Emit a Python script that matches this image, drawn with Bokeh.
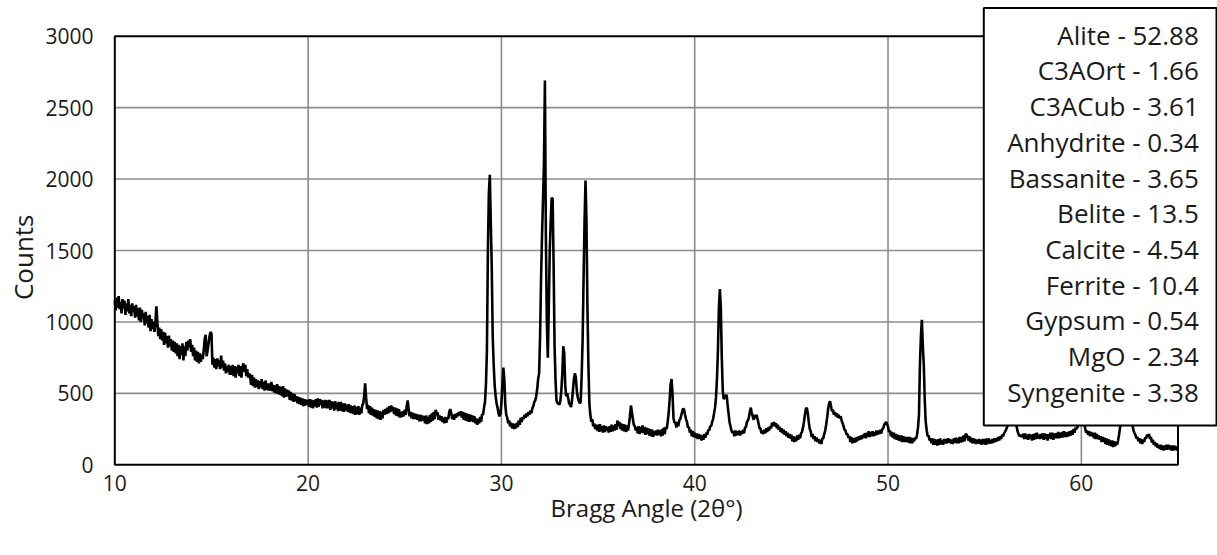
import numpy as np
from bokeh.plotting import figure
from bokeh.models import Range1d, FixedTicker, BoxAnnotation, Label, Title
from bokeh.embed import file_html
from bokeh.resources import INLINE

# XRD pattern: counts sampled every 0.05 deg 2-theta, one row per degree
step = 0.05
counts_10_19 = [
    [1150, 1080, 1170, 1100, 1180, 1090, 1140, 1060, 1160, 1095, 1150, 1050, 1130, 1075, 1160, 1060, 1120, 1040, 1130, 1070],
    [1110, 1030, 1120, 1040, 1095, 1010, 1100, 1000, 1085, 1020, 1060, 975, 1070, 990, 1040, 960, 1050, 935, 1020, 950],
    [1000, 930, 990, 1110, 1000, 900, 960, 880, 950, 870, 930, 840, 925, 850, 900, 820, 905, 830, 880, 800],
    [870, 790, 860, 780, 850, 760, 840, 740, 830, 770, 850, 730, 830, 760, 860, 800, 870, 820, 880, 790],
    [840, 760, 820, 730, 800, 720, 790, 710, 780, 720, 770, 740, 800, 880, 910, 760, 800, 850, 900, 930],
    [920, 700, 750, 680, 740, 670, 745, 690, 730, 670, 765, 680, 730, 660, 710, 640, 690, 650, 700, 630],
    [690, 630, 700, 620, 690, 610, 685, 640, 700, 620, 690, 610, 680, 710, 650, 700, 620, 670, 610, 640],
    [620, 560, 630, 550, 610, 540, 600, 545, 590, 530, 585, 540, 600, 530, 580, 520, 590, 525, 570, 520],
    [570, 520, 580, 515, 560, 505, 555, 500, 565, 495, 550, 490, 545, 480, 550, 470, 535, 475, 525, 480],
    [520, 455, 510, 450, 500, 440, 495, 445, 480, 430, 475, 425, 470, 420, 465, 410, 460, 415, 455, 420],
]
counts_20_29 = [
    [455, 405, 460, 400, 455, 395, 450, 410, 460, 400, 465, 405, 460, 420, 455, 395, 450, 400, 455, 395],
    [450, 395, 455, 385, 445, 395, 440, 380, 445, 390, 435, 375, 440, 380, 440, 375, 430, 370, 430, 380],
    [420, 370, 425, 365, 415, 360, 410, 355, 415, 350, 405, 355, 410, 350, 400, 360, 415, 430, 480, 570],
    [470, 390, 420, 360, 410, 350, 400, 345, 390, 335, 385, 325, 380, 320, 375, 315, 370, 325, 385, 350],
    [390, 355, 400, 360, 410, 370, 415, 375, 405, 355, 400, 345, 395, 340, 390, 330, 370, 335, 375, 340],
    [385, 350, 410, 450, 390, 340, 370, 325, 365, 320, 360, 320, 355, 315, 350, 305, 350, 305, 345, 310],
    [340, 290, 345, 285, 335, 290, 350, 300, 360, 310, 370, 320, 385, 360, 365, 315, 345, 310, 340, 300],
    [330, 290, 335, 295, 330, 320, 370, 390, 365, 320, 350, 315, 355, 330, 360, 340, 370, 345, 375, 330],
    [370, 315, 365, 310, 360, 305, 355, 300, 350, 305, 345, 300, 340, 290, 325, 280, 320, 290, 335, 300],
    [355, 350, 400, 440, 560, 800, 1500, 1900, 2030, 1700, 1380, 900, 700, 560, 480, 430, 400, 360, 340, 355],
]
counts_30_39 = [
    [430, 560, 680, 600, 420, 350, 330, 290, 310, 270, 295, 255, 290, 250, 285, 255, 295, 265, 310, 280],
    [330, 300, 335, 320, 350, 330, 360, 340, 370, 350, 380, 360, 395, 410, 440, 450, 480, 530, 600, 640],
    [900, 1300, 1600, 1850, 2100, 2690, 1600, 1000, 750, 1100, 1500, 1700, 1870, 1860, 1400, 830, 590, 450, 430, 430],
    [420, 450, 520, 640, 830, 780, 560, 480, 500, 470, 430, 420, 405, 450, 520, 600, 640, 610, 520, 470],
    [450, 430, 440, 620, 870, 1300, 1700, 1990, 1700, 1100, 700, 430, 350, 300, 320, 270, 290, 250, 280, 240],
    [280, 230, 285, 235, 270, 225, 275, 230, 270, 240, 265, 225, 270, 230, 280, 235, 275, 240, 285, 245],
    [310, 270, 300, 250, 290, 240, 285, 235, 280, 230, 275, 240, 285, 340, 415, 370, 320, 280, 270, 240],
    [265, 220, 270, 215, 265, 225, 275, 220, 265, 210, 260, 215, 255, 205, 250, 200, 245, 195, 235, 210],
    [240, 205, 245, 210, 240, 200, 250, 205, 260, 215, 265, 250, 300, 360, 450, 560, 600, 500, 330, 295],
    [300, 260, 300, 270, 310, 320, 345, 370, 395, 385, 350, 320, 300, 260, 265, 225, 245, 200, 235, 195],
]
counts_40_49 = [
    [225, 190, 220, 180, 215, 180, 210, 170, 205, 175, 215, 190, 225, 210, 245, 240, 270, 270, 300, 320],
    [360, 400, 470, 600, 800, 1100, 1230, 1100, 750, 520, 460, 470, 480, 490, 420, 360, 300, 270, 240, 225],
    [235, 200, 240, 205, 235, 210, 240, 205, 235, 215, 245, 220, 260, 265, 300, 310, 330, 370, 400, 360],
    [340, 315, 350, 325, 350, 320, 290, 255, 255, 220, 240, 215, 245, 220, 255, 230, 260, 240, 270, 255],
    [295, 270, 300, 270, 290, 255, 280, 245, 265, 230, 255, 220, 245, 210, 235, 200, 225, 190, 215, 185],
    [210, 165, 200, 160, 195, 165, 205, 175, 210, 185, 220, 230, 260, 300, 350, 390, 400, 360, 300, 250],
    [235, 195, 215, 180, 200, 165, 190, 160, 180, 150, 175, 145, 185, 185, 215, 240, 280, 330, 390, 430],
    [445, 410, 375, 385, 350, 370, 340, 360, 330, 350, 325, 340, 310, 290, 270, 245, 240, 215, 215, 190],
    [200, 160, 195, 150, 185, 155, 190, 160, 195, 170, 200, 175, 205, 180, 210, 190, 220, 185, 225, 195],
    [235, 195, 230, 200, 235, 200, 230, 205, 240, 210, 240, 215, 245, 220, 250, 255, 280, 290, 300, 285],
]
counts_50_59 = [
    [265, 230, 240, 200, 230, 190, 225, 180, 215, 175, 210, 170, 205, 165, 205, 160, 200, 160, 195, 160],
    [195, 155, 195, 150, 190, 150, 185, 165, 190, 180, 210, 260, 350, 700, 900, 1015, 830, 700, 450, 300],
    [240, 200, 205, 170, 185, 150, 185, 140, 180, 140, 175, 135, 180, 140, 185, 145, 170, 140, 180, 150],
    [180, 150, 185, 155, 180, 150, 175, 145, 185, 155, 190, 150, 185, 150, 195, 155, 195, 160, 205, 165],
    [210, 215, 200, 170, 200, 160, 190, 150, 185, 150, 180, 145, 175, 150, 180, 145, 175, 140, 180, 145],
    [180, 140, 185, 145, 185, 150, 175, 150, 180, 155, 185, 160, 185, 165, 195, 170, 200, 180, 210, 200],
    [220, 230, 245, 260, 285, 330, 400, 450, 480, 460, 420, 370, 320, 270, 235, 215, 200, 210, 195, 205],
    [215, 180, 220, 180, 210, 175, 215, 185, 210, 170, 215, 175, 220, 180, 225, 185, 210, 180, 215, 185],
    [220, 175, 220, 180, 215, 170, 215, 185, 225, 180, 225, 175, 220, 185, 220, 185, 230, 185, 225, 190],
    [230, 190, 235, 195, 225, 195, 230, 200, 235, 205, 240, 210, 250, 225, 260, 250, 265, 290, 340, 420],
]
counts_60_65 = [
    [460, 410, 350, 290, 255, 225, 240, 210, 235, 200, 230, 200, 225, 185, 225, 180, 215, 180, 205, 175],
    [200, 160, 195, 160, 190, 145, 185, 140, 180, 135, 170, 130, 170, 125, 165, 130, 160, 140, 170, 210],
    [260, 290, 330, 390, 450, 530, 600, 560, 500, 420, 360, 320, 300, 270, 240, 220, 210, 185, 195, 165],
    [185, 150, 180, 145, 175, 160, 190, 185, 210, 200, 215, 180, 195, 155, 175, 140, 160, 130, 150, 120],
    [140, 110, 140, 105, 135, 100, 135, 105, 140, 105, 140, 110, 135, 100, 135, 100, 135, 105, 130, 100],
    [115],
]

phases = ["Alite", "C3AOrt", "C3ACub", "Anhydrite", "Bassanite", "Belite",
          "Calcite", "Ferrite", "Gypsum", "MgO", "Syngenite"]
wt_percent = ["52.88", "1.66", "3.61", "0.34", "3.65", "13.5",
              "4.54", "10.4", "0.54", "2.34", "3.38"]

x_ticks = [10, 20, 30, 40, 50, 60]
y_ticks = [0, 500, 1000, 1500, 2000, 2500, 3000]
X_MIN, X_MAX = 10, 65
Y_MIN, Y_MAX = 0, 3000
x_title = "Bragg Angle (2θ°)"
y_title = "Counts"

# assemble series
rows = counts_10_19 + counts_20_29 + counts_30_39 + counts_40_49 + counts_50_59 + counts_60_65
two_theta, counts = [], []
for d, row in enumerate(rows):
    for j, c in enumerate(row):
        two_theta.append(round(X_MIN + d + j * step, 2))
        counts.append(c)

# ---- layout (pixels) ----
W, H = 1217, 543
FRAME_L, BORDER_B = 112, 76      # frame spans to canvas right / top so the key box can sit over it
FRAME_H = H - BORDER_B
PLOT_L, PLOT_R = 114.3, 1177.5   # pixel position of x = 10 and x = 65
PLOT_T, PLOT_B = 35.7, 464.3     # pixel position of y = 3000 and y = 0
sx = (PLOT_R - PLOT_L) / (X_MAX - X_MIN)
sy = (PLOT_B - PLOT_T) / (Y_MAX - Y_MIN)
x_lo = X_MIN - (PLOT_L - FRAME_L) / sx
x_hi = x_lo + (W - FRAME_L) / sx
y_lo = Y_MIN - (FRAME_H - PLOT_B) / sy
y_hi = y_lo + FRAME_H / sy

FONT = "Open Sans"
TXT = "#1a1a1a"

p = figure(width=W, height=H, x_range=Range1d(x_lo, x_hi), y_range=Range1d(y_lo, y_hi),
           output_backend="svg", toolbar_location=None,
           min_border_left=FRAME_L, min_border_right=0, min_border_top=0,
           min_border_bottom=BORDER_B)
p.background_fill_color = "white"
p.border_fill_color = "white"
p.outline_line_color = None
p.xgrid.visible = False
p.ygrid.visible = False

p.xaxis.ticker = FixedTicker(ticks=x_ticks)
p.yaxis.ticker = FixedTicker(ticks=y_ticks)
p.xaxis.bounds = (X_MIN, X_MAX)
p.yaxis.bounds = (Y_MIN, Y_MAX)
for ax in (p.xaxis, p.yaxis):
    ax.axis_line_color = None
    ax.major_tick_line_color = None
    ax.minor_tick_line_color = None
    ax.major_tick_out = 0
    ax.major_tick_in = 0
    ax.minor_tick_out = 0
    ax.major_label_text_font = FONT
    ax.major_label_text_font_size = "21px"
    ax.major_label_text_color = TXT
p.xaxis.major_label_standoff = 7
p.yaxis.major_label_standoff = 19

# axis titles as side-panel titles so they can be centred on the plotting area
p.add_layout(Title(text=x_title, align="right", offset=W - 742, vertical_align="top",
                   standoff=-6, text_font=FONT, text_font_size="24px",
                   text_font_style="normal", text_color=TXT), "below")
p.add_layout(Title(text=y_title, align="right", offset=214, vertical_align="top",
                   standoff=0, text_font=FONT, text_font_size="26px",
                   text_font_style="normal", text_color=TXT), "left")

# grid lines limited to the plotting area
gx = [t for t in x_ticks if X_MIN < t < X_MAX]
gy = [t for t in y_ticks if Y_MIN < t < Y_MAX]
p.segment(x0=gx, y0=[Y_MIN] * len(gx), x1=gx, y1=[Y_MAX] * len(gx),
          line_color="#8c8c8c", line_width=1.6)
p.segment(x0=[X_MIN] * len(gy), y0=gy, x1=[X_MAX] * len(gy), y1=gy,
          line_color="#8c8c8c", line_width=1.6)

p.line(two_theta, counts, line_color="black", line_width=2.6)

# plot-area border
p.quad(left=[X_MIN], right=[X_MAX], bottom=[Y_MIN], top=[Y_MAX],
       fill_alpha=0, line_color="black", line_width=2)

# key box (text-only entries, right aligned), placed over the top-right corner
box = BoxAnnotation(left=983.3 - FRAME_L, right=1216 - FRAME_L,
                    bottom=FRAME_H - 425, top=FRAME_H - 7.5,
                    left_units="screen", right_units="screen",
                    bottom_units="screen", top_units="screen",
                    fill_color="white", fill_alpha=1.0,
                    line_color="black", line_width=2, line_alpha=1.0)
p.add_layout(box)
for i, (name, pct) in enumerate(zip(phases, wt_percent)):
    p.add_layout(Label(x=1198.3 - FRAME_L, y=FRAME_H - 34.2 - 35.7 * i,
                       x_units="screen", y_units="screen",
                       text=f"{name} - {pct}", text_align="right", text_baseline="alphabetic",
                       text_font=FONT, text_font_size="26px", text_color=TXT))

open("out.html", "w").write(file_html(p, INLINE))
